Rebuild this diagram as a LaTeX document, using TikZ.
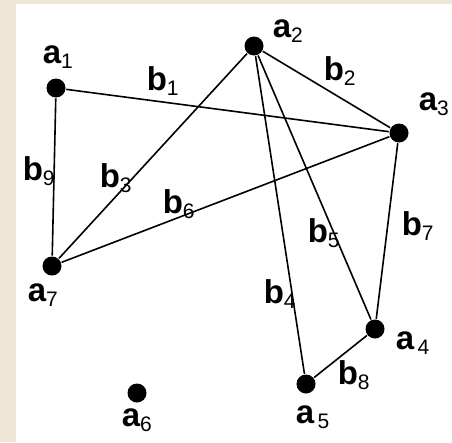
\documentclass[tikz,border=0pt]{standalone}
\usepackage{fontspec}
\setmainfont{Liberation Sans}
\usepackage{tikz}

\definecolor{paper}{RGB}{238,230,214}
\newcommand\vlab[2]{{\fontsize{33}{33}\selectfont\bfseries #1}\raisebox{-5pt}{\fontsize{21}{21}\selectfont #2}}

\begin{document}
\begin{tikzpicture}[
  x=1pt, y=-1pt,
  vert/.style={circle, fill=black, inner sep=0pt, minimum size=19pt},
  tag/.style={anchor=base west, inner sep=0pt},
  line width=1.6pt]
% background
\fill[paper] (0,0) rectangle (452,442);
\fill[white] (16,4) rectangle (452,442);
\useasboundingbox (0,0) rectangle (452,442);
% vertices
\node[vert] (a1) at (56,88)   {};
\node[vert] (a2) at (254,46)  {};
\node[vert] (a3) at (399,133) {};
\node[vert] (a4) at (375,329) {};
\node[vert] (a5) at (306,384) {};
\node[vert] (a6) at (137,393) {};
\node[vert] (a7) at (52,266)  {};
% edges
\path
  (a1) edge (a3)
  (a2) edge (a3)
  (a2) edge (a7)
  (a2) edge (a5)
  (a2) edge (a4)
  (a3) edge (a7)
  (a3) edge (a4)
  (a4) edge (a5)
  (a1) edge (a7);
% vertex labels
\node[tag] (la1) at (42,63)   {\vlab{a}{1}};
\node[tag] (la2) at (272,37)  {\vlab{a}{2}};
\node[tag] (la3) at (418,110) {\vlab{a}{3}};
\node[tag] (la4) at (395,349) {\vlab{a}{\,4}};
\node[tag] (la5) at (295,423) {\vlab{a}{\,5}};
\node[tag] (la6) at (121,426) {\vlab{a}{6}};
\node[tag] (la7) at (27,301)  {\vlab{a}{7}};
% edge labels
\node[tag] (lb1) at (146,90)  {\vlab{b}{1}};
\node[tag] (lb2) at (323,80)  {\vlab{b}{2}};
\node[tag] (lb3) at (99,187)  {\vlab{b}{3}};
\node[tag] (lb4) at (263,303) {\vlab{b}{4}};
\node[tag] (lb5) at (307,242) {\vlab{b}{5}};
\node[tag] (lb6) at (162,213) {\vlab{b}{6}};
\node[tag] (lb7) at (401,235) {\vlab{b}{7}};
\node[tag] (lb8) at (337,384) {\vlab{b}{8}};
\node[tag] (lb9) at (22,180)  {\vlab{b}{9}};
\end{tikzpicture}
\end{document}
